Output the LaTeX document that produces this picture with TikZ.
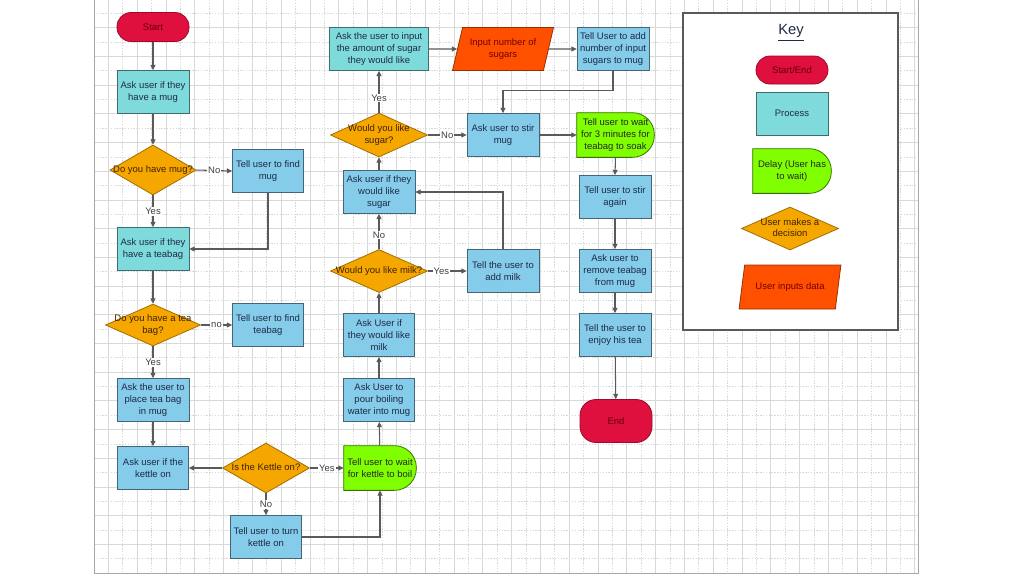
\documentclass[tikz,border=0pt]{standalone}
\usepackage{fontspec}
\setmainfont{Liberation Sans}
\usetikzlibrary{shapes.geometric,arrows.meta}
\newdimen\pxu
\pxu=0.02cm
\pgfdeclarelayer{bg}
\pgfdeclarelayer{shapesbg}
\pgfsetlayers{bg,shapesbg,main}
\definecolor{tealc}{HTML}{7FDADC}
\definecolor{skyc}{HTML}{85CBEA}
\definecolor{redc}{HTML}{DF0F3E}
\definecolor{orangec}{HTML}{F5A700}
\definecolor{greenc}{HTML}{7FFF00}
\definecolor{parac}{HTML}{FF5000}
\definecolor{linec}{HTML}{5A5A5A}
\definecolor{gridc}{HTML}{D8D8D8}
\definecolor{txtc}{HTML}{1E2B45}
\newcommand{\dtxt}[1]{\makebox[0pt][c]{\begin{tabular}{@{}c@{}}#1\end{tabular}}}
\begin{document}
\begin{tikzpicture}[x=0.02cm,y=-0.02cm,
  font=\fontsize{5.4}{6.6}\selectfont,
  every node/.style={inner sep=1pt, text=txtc},
  tproc/.style={rectangle, align=center, fill=tealc, draw=tealc!50!black, line width=0.45pt, minimum width=#1, minimum height=43\pxu},
  tproc/.default=72\pxu,
  sproc/.style={rectangle, align=center, fill=skyc, draw=skyc!50!black, line width=0.45pt, minimum width=#1, minimum height=43\pxu},
  sproc/.default=72\pxu,
  term/.style={rectangle, align=center, rounded corners=#1, fill=redc, draw=redc!70!black, line width=0.45pt, minimum width=72\pxu, text=red!40!black},
  dec/.style={diamond, fill=orangec, draw=orangec!65!black, line width=0.45pt, inner sep=0pt, text=orange!25!black},
  delaybox/.style={rectangle, align=center, minimum height=44\pxu, text=black!85},
  delayline/.style={fill=greenc, draw=greenc!45!black, line width=0.45pt, rounded corners=22\pxu},
  dataio/.style={trapezium, align=center, trapezium left angle=70, trapezium right angle=110, trapezium stretches=true, fill=parac, draw=parac!60!black, line width=0.45pt, text=red!45!black},
  conn/.style={draw=linec, line width=0.6pt, -{Triangle[length=3pt,width=2.8pt]}},
  lbl/.style={fill=white, inner sep=0.6pt, text=black!75},
  keyframe/.style={rectangle, fill=white, draw=black!65, line width=0.6pt},
]
\useasboundingbox (0,0) rectangle (1024,576);
% ---------- background grid ----------
\begin{pgfonlayer}{bg}
\fill[white] (0,0) rectangle (1024,576);
\foreach \i in {1,...,57} {
  \pgfmathsetmacro\gx{94+14.4*\i}
  \ifodd\i
    \draw[gridc, line width=0.4pt] (\gx,0) -- (\gx,573);
  \else
    \draw[gridc, line width=0.4pt, dash pattern=on 0.8pt off 0.8pt] (\gx,0) -- (\gx,573);
  \fi
}
\foreach \j in {1,...,39} {
  \pgfmathsetmacro\gy{573-14.35*\j}
  \ifodd\j
    \draw[gridc, line width=0.4pt, dash pattern=on 0.8pt off 0.8pt] (94,\gy) -- (918,\gy);
  \else
    \draw[gridc, line width=0.4pt] (94,\gy) -- (918,\gy);
  \fi
}
\draw[black!35, line width=0.5pt] (94,0) -- (94,573) -- (918,573) -- (918,0);
% key frame
\node[keyframe, minimum width=215\pxu, minimum height=317\pxu] (keybox) at (790.5,171.5) {};
\end{pgfonlayer}

% ---------- column 1 ----------
\node[term=14\pxu, minimum height=29\pxu] (start) at (153,27) {Start};
\node[tproc] (mug1) at (153,92) {Ask user if they\\have a mug};
\node[dec, minimum width=86\pxu, minimum height=50\pxu] (dmug) at (153,170) {\dtxt{Do you have mug?}};
\node[sproc=71\pxu] (findmug) at (268,171) {Tell user to find\\mug};
\node[tproc] (tea1) at (153,249) {Ask user if they\\have a teabag};
\node[dec, minimum width=95\pxu, minimum height=42\pxu] (dtea) at (153,325) {\dtxt{Do you have a tea\\bag?}};
\node[sproc=71\pxu] (findtea) at (268,325) {Tell user to find\\teabag};
\node[sproc] (place) at (153,400) {Ask the user to\\place tea bag\\in mug};
\node[sproc=71\pxu] (askkettle) at (153,468) {Ask user if the\\kettle on};
\node[dec, minimum width=87\pxu, minimum height=50\pxu] (dkettle) at (266,468) {\dtxt{Is the Kettle on?}};
\node[sproc=71\pxu] (turnon) at (266,537) {Tell user to turn\\kettle on};
\node[delaybox, minimum width=72\pxu] (boil) at (380,468) {Tell user to wait\\for kettle to boil};

% ---------- column 2 ----------
\node[sproc=71\pxu] (pour) at (379,400) {Ask User to\\pour boiling\\water into mug};
\node[sproc=71\pxu] (askmilk) at (379,335) {Ask User if\\they would like\\milk};
\node[dec, minimum width=97\pxu, minimum height=43\pxu] (dmilk) at (379,271) {\dtxt{Would you like milk?}};
\node[sproc] (addmilk) at (503,271) {Tell the user to\\add milk};
\node[sproc] (asksugar) at (379,192) {Ask user if they\\would like\\sugar};
\node[dec, minimum width=97\pxu, minimum height=44\pxu] (dsugar) at (379,135) {\dtxt{Would you like\\sugar?}};
\node[tproc=99\pxu] (inputsugar) at (379,49) {Ask the user to input\\the amount of sugar\\they would like};
\node[dataio, minimum width=101\pxu, minimum height=43\pxu] (numsugar) at (503,49) {Input number of\\sugars};
\node[sproc] (addsugar) at (613,49) {Tell User to add\\number of input\\sugars to mug};
\node[sproc] (stir) at (503,135) {Ask user to stir\\mug};

% ---------- column 3 ----------
\node[delaybox, minimum width=77\pxu] (soak) at (615.5,135) {Tell user to wait\\for 3 minutes for\\teabag to soak};
\node[sproc] (stiragain) at (615,197) {Tell user to stir\\again};
\node[sproc] (remove) at (615,271) {Ask user to\\remove teabag\\from mug};
\node[sproc] (enjoy) at (615,335) {Tell the user to\\enjoy his tea};
\node[term=16\pxu, minimum height=43\pxu] (end) at (616,421) {End};

% ---------- key ----------
\node (keytitle) at (791,33) {\fontsize{8.4}{9.5}\selectfont\underline{Key}};
\node[term=14\pxu, minimum height=28\pxu] (kterm) at (792,70) {Start/End};
\node[tproc] (kproc) at (792,113.5) {Process};
\node[delaybox, minimum width=78\pxu] (kdelay) at (792,171) {Delay (User has\\to wait)};
\node[dec, minimum width=97\pxu, minimum height=43\pxu] (kdec) at (790,228.5) {\dtxt{User makes a\\decision}};
\node[dataio, minimum width=102\pxu, minimum height=44\pxu] (kdata) at (790,287) {User inputs data};

% ---------- delay outlines ----------
\begin{pgfonlayer}{shapesbg}
\foreach \d in {boil,soak,kdelay} {
  \filldraw[delayline] (\d.south west) [sharp corners] -- (\d.north west) [rounded corners=22\pxu] -- (\d.north east) -- (\d.south east) [sharp corners] -- cycle;
}
\end{pgfonlayer}

% ---------- connectors ----------
\draw[conn] (start) -- (mug1);
\draw[conn] (mug1) -- (dmug);
\draw[conn] (dmug.east) -- node[lbl] {No} (findmug.west);
\draw[conn] (dmug.south) -- node[lbl] {Yes} (tea1.north);
\draw[conn] (findmug.south) |- (tea1.east);
\draw[conn] (tea1) -- (dtea);
\draw[conn] (dtea.east) -- node[lbl] {no} (findtea.west);
\draw[conn] (dtea.south) -- node[lbl] {Yes} (place.north);
\draw[conn] (place) -- (askkettle);
\draw[conn] (dkettle.west) -- (askkettle.east);
\draw[conn] (dkettle.east) -- node[lbl] {Yes} (boil.west);
\draw[conn] (dkettle.south) -- node[lbl] {No} (turnon.north);
\draw[conn] (turnon.east) -| (boil.south);
\draw[conn] (boil) -- (pour);
\draw[conn] (pour) -- (askmilk);
\draw[conn] (askmilk) -- (dmilk);
\draw[conn] (dmilk.east) -- node[lbl, pos=0.35] {Yes} (addmilk.west);
\draw[conn] (dmilk.north) -- node[lbl, pos=0.4] {No} (asksugar.south);
\draw[conn] (addmilk.north) |- (asksugar.east);
\draw[conn] (asksugar) -- (dsugar);
\draw[conn] (dsugar.north) -- node[lbl, pos=0.35] {Yes} (inputsugar.south);
\draw[conn] (dsugar.east) -- node[lbl] {No} (stir.west);
\draw[conn] (inputsugar.east) -- (numsugar.west);
\draw[conn] (numsugar.east) -- (addsugar.west);
\draw[conn] (addsugar.south) -- ++(0,20) -| (stir.north);
\draw[conn] (stir.east) -- (soak.west);
\draw[conn] (soak.south) -- (stiragain.north);
\draw[conn] (stiragain) -- (remove);
\draw[conn] (remove) -- (enjoy);
\draw[conn] (enjoy) -- (end);
\end{tikzpicture}
\end{document}
